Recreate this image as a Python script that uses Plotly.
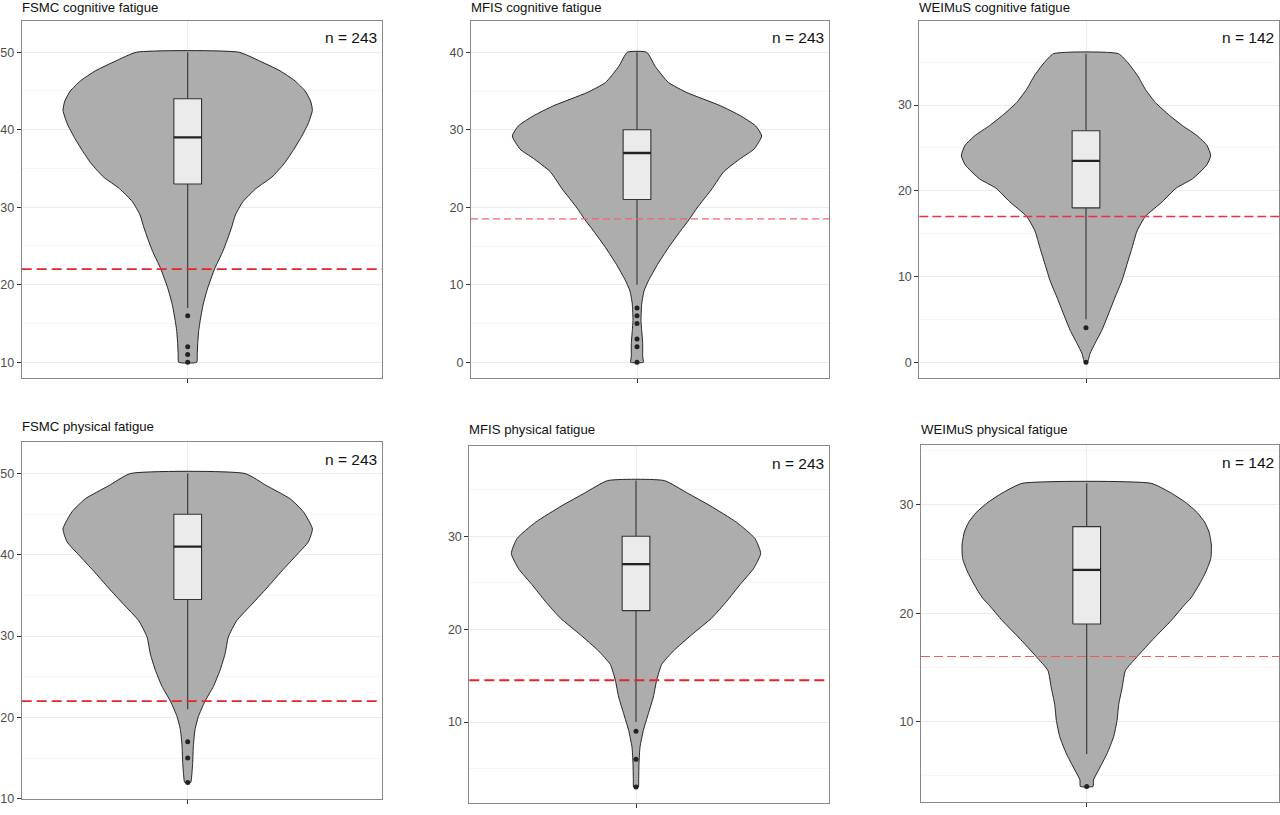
import plotly.graph_objects as go

W, H = 1280, 815

# ---------------- data ----------------
titles = ["FSMC cognitive fatigue", "MFIS cognitive fatigue", "WEIMuS cognitive fatigue",
          "FSMC physical fatigue", "MFIS physical fatigue", "WEIMuS physical fatigue"]
n_labels = ["n = 243", "n = 243", "n = 142", "n = 243", "n = 243", "n = 142"]
cutoffs = [22, 18.5, 17, 22, 14.5, 16]

q1 = [33, 21, 18, 34.5, 22, 19]
median = [39, 27, 23.5, 41, 27, 24]
q3 = [44, 30, 27, 45, 30, 28]
lower_whisker = [17, 10, 5, 21, 10, 7]
upper_whisker = [50, 40, 36, 50, 36, 32]
outliers = [[16, 12, 11, 10], [7, 6, 5, 3, 2, 0], [4, 0], [17, 15, 12], [9, 6, 3], [4]]

# violin density profiles: score value and (unnormalised) density
fsmc_cog_y = [10, 11, 12.4, 14.1, 15.4, 17.5, 19.6, 22.1, 24.3, 26.0, 27.5, 29.0, 30.7, 32.4,
              33.9, 35.6, 37.3, 39.0, 40.75, 42.5, 43.7, 45.0, 46.3, 47.6, 48.85, 50]
fsmc_cog_d = [9, 9.5, 10, 11, 12.5, 15.5, 20, 27, 35, 40, 44, 47.5, 55, 68,
              84, 96, 105, 113, 120, 124.3, 122.5, 117, 107, 92, 72, 51]

mfis_cog_y = [0, 0.7, 2.4, 4.1, 5.4, 7.5, 9.2, 10.5, 12.6, 14.8, 16.9, 18.5, 19.9, 22.4,
              24.6, 26.3, 27.5, 29.2, 30.5, 31.8, 33.1, 34.8, 36.1, 38.2, 40]
mfis_cog_d = [19, 17, 17, 14, 12, 14, 21, 34, 61, 94, 129, 157, 179, 224,
              259, 309, 349, 372, 354, 309, 249, 149, 94, 54, 29]

weimus_cog_y = [0, 1.0, 2.2, 3.7, 5.6, 7.6, 9.5, 11.4, 13.3, 15.3, 17.0, 18.7, 20.3, 21.4,
                23.0, 24.1, 25.3, 26.45, 27.6, 28.8, 30.3, 31.85, 33.4, 34.9, 36]
weimus_cog_d = [1.5, 4, 9, 15.7, 22.3, 29, 35.7, 40.7, 45.7, 50.7, 59, 75.7, 89.5, 106,
                120, 124, 120.3, 110.3, 96, 83, 69, 59, 51.5, 42, 32.3]

fsmc_phys_y = [12, 12.8, 14.45, 16.5, 18.5, 20.1, 22.0, 23.8, 25.8, 27.8, 29.9, 31.9, 33.9,
               35.9, 38.0, 40.0, 41.6, 43.2, 45.3, 46.9, 48.5, 50]
fsmc_phys_d = [9, 12, 15, 17, 22, 32, 52, 77, 97, 112, 122, 147, 192,
               237, 282, 327, 362, 374, 347, 307, 237, 172]

mfis_phys_y = [3, 3.8, 5.55, 7.3, 9.1, 10.9, 12.7, 14.5, 16.2, 17.65, 19.4, 21.2, 23.0,
               24.8, 26.5, 28.15, 29.75, 31.5, 33.3, 34.7, 36]
mfis_phys_d = [7, 8, 9, 12, 22, 37, 52, 62, 77, 112, 167, 227, 272,
               312, 352, 374, 357, 302, 222, 152, 85]

weimus_phys_y = [4, 4.6, 5.5, 7.0, 8.6, 10.1, 11.6, 13.1, 14.7, 16.0, 17.7, 19.3, 20.8,
                 21.4, 22.6, 23.8, 25.05, 26.3, 27.5, 28.4, 29.3, 30.24, 31.15, 32]
weimus_phys_d = [6.3, 6.7, 11.7, 20, 26.7, 30, 31.7, 35, 38.3, 50, 66.7, 83.3, 97,
                 103, 111, 117.7, 122.7, 123.3, 121, 116.7, 109.3, 97.7, 82.7, 63.7]

violin_y = [fsmc_cog_y, mfis_cog_y, weimus_cog_y, fsmc_phys_y, mfis_phys_y, weimus_phys_y]
violin_d = [fsmc_cog_d, mfis_cog_d, weimus_cog_d, fsmc_phys_d, mfis_phys_d, weimus_phys_d]

# ---------------- layout geometry ----------------
panels_px = [  # left, right, top, bottom, centre (pixels)
    (21.7, 382.0, 21.0, 381.0, 187.7),
    (471.0, 829.3, 20.7, 381.0, 637.0),
    (919.3, 1279.3, 20.7, 381.0, 1086.0),
    (21.7, 381.7, 446.0, 806.0, 187.7),
    (469.3, 829.3, 450.0, 810.0, 636.0),
    (921.0, 1279.3, 449.3, 808.7, 1086.7),
]
y_ranges = [(8.0, 54.05), (-2.0, 44.1), (-1.82, 39.87), (9.95, 53.86), (1.28, 39.71), (2.58, 35.5)]
title_shift = [13, 13, 13, 16, 16.5, 15.5]
VIOLIN_HALF = 0.45
BOX_HALF = 0.05
PX_PER_UNIT = 124.7 / VIOLIN_HALF

dash_styles = [
    dict(color="#E3252B", width=1.8, dash="10px,5px"),
    dict(color="#F06670", width=1.2, dash="7px,4px"),
    dict(color="#E8333C", width=1.4, dash="9px,4px"),
    dict(color="#E3252B", width=1.8, dash="10px,5px"),
    dict(color="#E3252B", width=1.8, dash="10px,5px"),
    dict(color="#EE5A64", width=1.1, dash="9px,4px"),
]

fig = go.Figure()
shapes = []
annotations = []
FONT = "Liberation Sans, Arial, sans-serif"

for i in range(6):
    xa = "x" if i == 0 else f"x{i+1}"
    ya = "y" if i == 0 else f"y{i+1}"
    ys = violin_y[i]
    ds = violin_d[i]
    dmax = max(ds)
    half = [VIOLIN_HALF * d / dmax for d in ds]
    vx = half + [-h for h in half[::-1]] + [half[0]]
    vy = list(ys) + list(ys[::-1]) + [ys[0]]
    fig.add_trace(go.Scatter(x=vx, y=vy, mode="lines", fill="toself", fillcolor="#ADADAD",
                             line=dict(color="#111111", width=0.9, shape="spline", smoothing=0.5),
                             xaxis=xa, yaxis=ya, showlegend=False, hoverinfo="skip"))
    # whiskers
    fig.add_trace(go.Scatter(x=[0, 0, None, 0, 0],
                             y=[lower_whisker[i], q1[i], None, q3[i], upper_whisker[i]],
                             mode="lines", line=dict(color="#333333", width=1.1),
                             xaxis=xa, yaxis=ya, showlegend=False, hoverinfo="skip"))
    # box
    fig.add_trace(go.Scatter(x=[-BOX_HALF, BOX_HALF, BOX_HALF, -BOX_HALF, -BOX_HALF],
                             y=[q1[i], q1[i], q3[i], q3[i], q1[i]],
                             mode="lines", fill="toself", fillcolor="#EBEBEB",
                             line=dict(color="#333333", width=1.1),
                             xaxis=xa, yaxis=ya, showlegend=False, hoverinfo="skip"))
    # median
    fig.add_trace(go.Scatter(x=[-BOX_HALF, BOX_HALF], y=[median[i], median[i]],
                             mode="lines", line=dict(color="#222222", width=2.3),
                             xaxis=xa, yaxis=ya, showlegend=False, hoverinfo="skip"))
    # outliers
    fig.add_trace(go.Scatter(x=[0] * len(outliers[i]), y=outliers[i], mode="markers",
                             marker=dict(size=5, color="#222222"),
                             xaxis=xa, yaxis=ya, showlegend=False, hoverinfo="skip"))

    left, right, top, bottom, centre = panels_px[i]
    xr = [(left - centre) / PX_PER_UNIT, (right - centre) / PX_PER_UNIT]
    axis_common = dict(showline=True, mirror=True, linecolor="#888888", linewidth=1,
                       zeroline=False, ticks="outside", ticklen=4, tickwidth=1,
                       tickcolor="#333333", showgrid=True, gridcolor="#EBEBEB", gridwidth=1,
                       fixedrange=True)
    fig.update_layout(**{
        ("xaxis" if i == 0 else f"xaxis{i+1}"): dict(
            domain=[left / W, right / W], range=xr, anchor=ya,
            tickvals=[0], ticktext=[""], **axis_common),
        ("yaxis" if i == 0 else f"yaxis{i+1}"): dict(
            domain=[1 - bottom / H, 1 - top / H], range=list(y_ranges[i]), anchor=xa,
            tick0=0, dtick=10, tickfont=dict(size=12.5, color="#4D4D4D", family=FONT),
            minor=dict(tick0=0, dtick=5, showgrid=True, gridcolor="#F2F2F2", gridwidth=0.8,
                       ticks=""),
            **axis_common),
    })
    shapes.append(dict(type="line", xref=f"{xa} domain", x0=0, x1=1, yref=ya,
                       y0=cutoffs[i], y1=cutoffs[i], layer="above", line=dash_styles[i]))
    annotations.append(dict(text=titles[i], xref=f"{xa} domain", x=0, xanchor="left",
                            xshift=-2, yref=f"{ya} domain", y=1, yanchor="middle",
                            yshift=title_shift[i],
                            showarrow=False, font=dict(size=13.2, color="#111111", family=FONT)))
    annotations.append(dict(text=n_labels[i], xref=f"{xa} domain", x=1, xanchor="right",
                            xshift=-3, yref=f"{ya} domain", y=1, yanchor="middle", yshift=-17,
                            showarrow=False, font=dict(size=15.5, color="#111111", family=FONT)))

fig.update_layout(width=W, height=H, margin=dict(l=0, r=0, t=0, b=0),
                  paper_bgcolor="white", plot_bgcolor="white", showlegend=False,
                  font=dict(family=FONT), shapes=shapes, annotations=annotations)

fig.write_html("out.html", config={"displayModeBar": False, "staticPlot": True},
               post_script="document.body.style.margin='0';document.body.style.overflow='hidden';")
